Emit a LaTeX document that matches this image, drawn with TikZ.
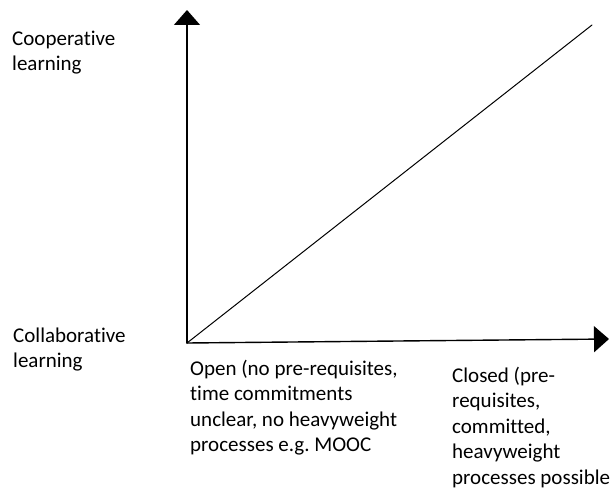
\documentclass[tikz,border=0pt]{standalone}
\usepackage{fontspec}
\setmainfont{Carlito}[Ligatures=NoCommon]
\usetikzlibrary{arrows.meta}
\frenchspacing
\begin{document}
\begin{tikzpicture}[x=1pt,y=-1pt,line cap=round,line join=round,>={Triangle[width=26pt,length=15pt]},
	font=\fontsize{21}{25.6}\selectfont,
	lbl/.style={anchor=base west,align=left,inner sep=0pt}]
			\useasboundingbox (0,0) rectangle (610,487);
			\coordinate (o) at (187,343);
			\coordinate (ytop) at (187,10);
			\coordinate (xend) at (609,339);
			\coordinate (diag) at (592,25);
			\draw[->,line width=1.4pt] (o) -- (ytop);
			\draw[->,line width=1.4pt] (o) -- (xend);
			\draw[line width=1pt] (o) -- (diag);
			% anchors sit on the last line's baseline
			\node[lbl] (coop) at (12,70.6) {Cooperative\\learning};
			\node[lbl] (collab) at (13,367.6) {Collaborative\\learning};
			\node[lbl] (open) at (190,451.8) {Open (no pre-requisites,\\time commitments\\unclear, no heavyweight\\processes e.g. MOOC};
			\node[lbl] (closed) at (452,484.4) {Closed (pre-\\requisites,\\committed,\\heavyweight\\processes possible};
		\end{tikzpicture}
\end{document}
